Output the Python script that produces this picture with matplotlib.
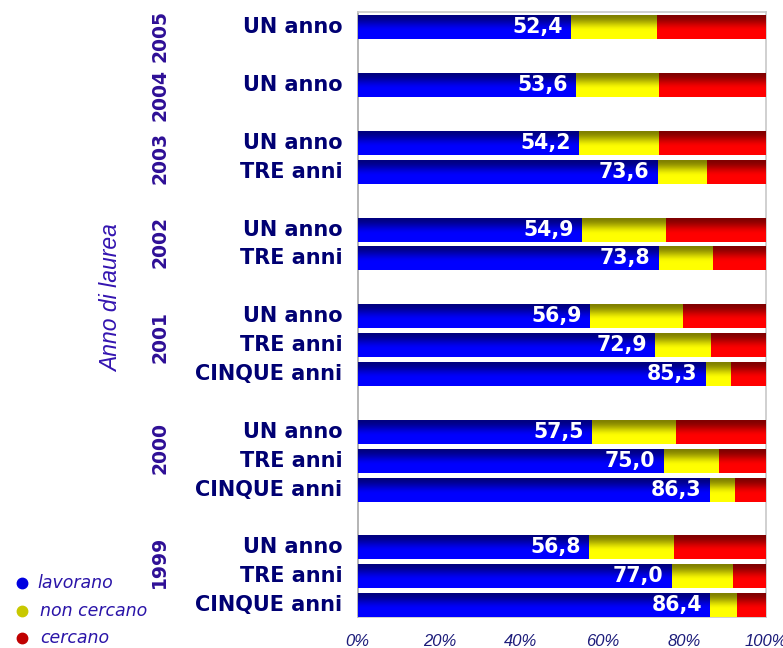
import numpy as np
import matplotlib
matplotlib.use("Agg")
import matplotlib.pyplot as plt
from matplotlib.colors import to_rgb
from matplotlib.lines import Line2D
from matplotlib.transforms import blended_transform_factory

# ---- data (top to bottom) ----
years = ["2005", "2004", "2003", "2002", "2001", "2000", "1999"]
bar_year = ["2005", "2004", "2003", "2003", "2002", "2002",
            "2001", "2001", "2001", "2000", "2000", "2000",
            "1999", "1999", "1999"]
bar_label = ["UN anno", "UN anno", "UN anno", "TRE anni", "UN anno", "TRE anni",
             "UN anno", "TRE anni", "CINQUE anni", "UN anno", "TRE anni", "CINQUE anni",
             "UN anno", "TRE anni", "CINQUE anni"]
lavorano = [52.4, 53.6, 54.2, 73.6, 54.9, 73.8, 56.9, 72.9, 85.3,
            57.5, 75.0, 86.3, 56.8, 77.0, 86.4]
non_cercano = [20.9, 20.2, 19.6, 12.0, 20.7, 13.3, 22.8, 13.7, 6.2,
               20.5, 13.6, 6.2, 20.7, 15.0, 6.6]
cercano = [26.7, 26.2, 26.2, 14.4, 24.4, 12.9, 20.3, 13.4, 8.5,
           22.0, 11.4, 7.5, 22.5, 8.0, 7.0]
series_names = ["lavorano", "non cercano", "cercano"]
x_ticks = [0, 20, 40, 60, 80, 100]

# ---- style ----
bright = ["#0000ff", "#ffff00", "#ff0000"]
dark = ["#000080", "#808000", "#800000"]
label_navy = "#000073"
year_col = "#2e0f96"
axis_title_col = "#3314b0"
legend_col = "#2a14a8"
tick_col = "#1c1c7a"

W, H = 783, 648
fig = plt.figure(figsize=(W / 100, H / 100), dpi=100)
ax_l, ax_r, ax_t, ax_b = 357.7, 765.7, 12.3, 617.0
ax = fig.add_axes([ax_l / W, 1 - ax_b / H, (ax_r - ax_l) / W, (ax_b - ax_t) / H])

# slot positions: one empty slot between year groups
ypos = []
slot = 0
prev = None
for yr in bar_year:
    if prev is not None and yr != prev:
        slot += 1
    ypos.append(slot)
    slot += 1
    prev = yr
top_slot = ypos[-1]
ypos = [top_slot - s for s in ypos]

bar_h = 0.83
lav = np.array(lavorano)
nc = np.array(non_cercano)
ce = np.array(cercano)
lefts = [np.zeros_like(lav), lav, lav + nc]
vals = [lav, nc, ce]


def gradient_image(c_dark, c_bright, n=64):
    t = np.linspace(0, 1, n)  # 0 = bottom, 1 = top
    w = np.clip((1 - t) / 0.68, 0, 1)
    w = w * w * (3 - 2 * w)
    d = np.array(to_rgb(c_dark))
    b = np.array(to_rgb(c_bright))
    img = d[None, :] + (b - d)[None, :] * w[:, None]
    return img[:, None, :]


for k in range(3):
    bars = ax.barh(ypos, vals[k], left=lefts[k], height=bar_h,
                   color=bright[k], edgecolor="none", zorder=2)
    img = gradient_image(dark[k], bright[k])
    for p in bars.patches:
        x0, y0 = p.get_x(), p.get_y()
        w, h = p.get_width(), p.get_height()
        im = ax.imshow(img, extent=[x0, x0 + w, y0, y0 + h], origin="lower",
                       aspect="auto", interpolation="bilinear", zorder=3)
        im.set_clip_path(p)

ax.set_xlim(0, 100)
ax.set_ylim(-0.41, top_slot + 0.52)

# value labels on the blue segment
for y, v in zip(ypos, lavorano):
    ax.annotate(f"{v:.1f}".replace(".", ","), xy=(v, y), xytext=(-6, 0),
                textcoords="offset points", ha="right", va="center",
                color="white", fontsize=14.8, fontweight="bold", zorder=5)

# category labels
trans = blended_transform_factory(ax.transAxes, ax.transData)
for y, lab in zip(ypos, bar_label):
    ax.text(-0.038, y, lab, transform=trans, ha="right", va="center",
            color=label_navy, fontsize=15, fontweight="bold")

# year labels
year_nudge = {"2005": -0.31, "2004": -0.35, "2003": -0.03, "2002": 0.06,
              "2001": 0.27, "2000": 0.43, "1999": 0.49}
for yr in years:
    ys = [y for y, b in zip(ypos, bar_year) if b == yr]
    yc = np.mean(ys) + year_nudge[yr]
    ax.text(-0.485, yc, yr, transform=trans, rotation=90, ha="center",
            va="center", color=year_col, fontsize=13.5, fontweight="bold")

fig.text(112 / W, 1 - 298 / H, "Anno di laurea", rotation=90, ha="center",
         va="center", color=axis_title_col, fontsize=16.5, style="italic",
         family="Liberation Sans")

# x axis
ax.set_xticks(x_ticks)
ax.set_xticklabels([f"{t}%" for t in x_ticks], fontsize=12, style="italic",
                   family="Liberation Sans", color=tick_col)
ax.tick_params(axis="x", length=0, pad=12)
ax.set_yticks([])
for s in ["top", "right", "bottom"]:
    ax.spines[s].set_color("#c8c8c8")
    ax.spines[s].set_linewidth(1.2)
ax.spines["left"].set_color("#a8a8a8")
ax.spines["left"].set_linewidth(1.2)

# legend
marker_cols = ["#0000e0", "#c8c800", "#c00000"]
leg_y = [583, 611, 638]
leg_text_x = [37, 40, 40]
for name, c, yy, tx in zip(series_names, marker_cols, leg_y, leg_text_x):
    fig.add_artist(Line2D([22 / W], [1 - yy / H], transform=fig.transFigure,
                          marker="o", ms=7.5, ls="", color=c, mec=c))
    fig.text(tx / W, 1 - yy / H, name, ha="left", va="center",
             color=legend_col, fontsize=12.5, style="italic")

fig.savefig("out.png", dpi=100)
